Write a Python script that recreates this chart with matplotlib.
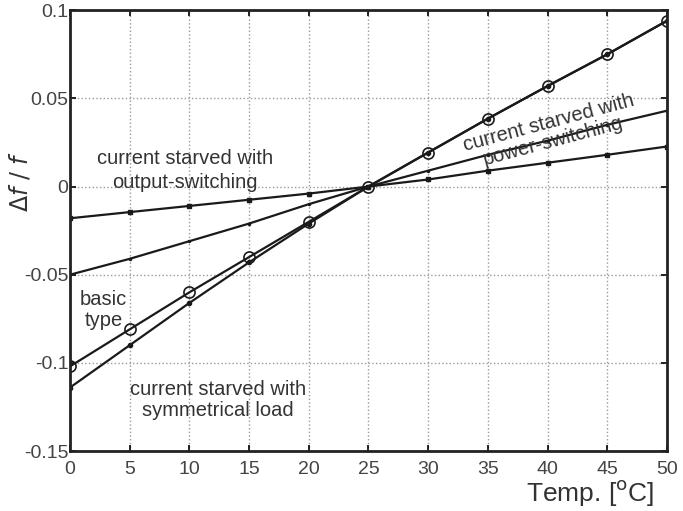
import matplotlib.pyplot as plt
import numpy as np

temp = [0, 5, 10, 15, 20, 25, 30, 35, 40, 45, 50]
basic_type = [-0.102, -0.081, -0.060, -0.040, -0.020, 0.0, 0.0193, 0.0385, 0.057, 0.075, 0.094]
symmetrical_load = [-0.114, -0.090, -0.066, -0.043, -0.021, 0.0, 0.0193, 0.0385, 0.057, 0.075, 0.094]
power_switching = [-0.050, -0.041, -0.031, -0.021, -0.010, 0.0, 0.009, 0.018, 0.026, 0.035, 0.043]
output_switching = [-0.018, -0.0145, -0.011, -0.0075, -0.004, 0.0, 0.004, 0.009, 0.0135, 0.018, 0.0227]

x_ticks = [0, 5, 10, 15, 20, 25, 30, 35, 40, 45, 50]
y_ticks = [-0.15, -0.1, -0.05, 0, 0.05, 0.1]
y_tick_labels = ['-0.15', '-0.1', '-0.05', '0', '0.05', '0.1']

plt.rcParams['font.family'] = ['Liberation Sans', 'DejaVu Sans']

fig = plt.figure(figsize=(6.83, 5.11), dpi=100)
ax = fig.add_axes([0.1025, 0.1174, 0.874, 0.8626])

lc = '#1a1a1a'
ax.plot(temp, output_switching, color=lc, lw=1.6, marker='s', ms=3)
ax.plot(temp, power_switching, color=lc, lw=1.6, marker='.', ms=3)
ax.plot(temp, symmetrical_load, color=lc, lw=1.6, marker='o', ms=3)
ax.plot(temp, basic_type, color=lc, lw=1.6, marker='o', ms=8, mfc='none', mew=1.2)

ax.set_xlim(0, 50)
ax.set_ylim(-0.15, 0.1)
ax.set_xticks(x_ticks)
ax.set_yticks(y_ticks)
ax.set_yticklabels(y_tick_labels)
ax.grid(True, linestyle=':', color='#999999', lw=1.0)
ax.tick_params(direction='in', top=True, right=True, length=4, width=1.2,
               labelsize=14, labelcolor='#444444')
ax.tick_params(axis='x', pad=7)
ax.tick_params(axis='y', pad=1)
for s in ax.spines.values():
    s.set_linewidth(2)
    s.set_color('#222222')

txt = '#333333'
ax.text(9.6, 0.009, 'current starved with\noutput-switching', ha='center', va='center',
        fontsize=14.5, color=txt, linespacing=1.3)
ax.text(40.3, 0.031, 'current starved with\npower-switching', ha='center', va='center',
        fontsize=14.5, color=txt, rotation=15, linespacing=0.95, rotation_mode='anchor')
ax.text(2.8, -0.07, 'basic\ntype', ha='center', va='center', fontsize=14.5, color=txt,
        linespacing=1.1)
ax.text(12.4, -0.121, 'current starved with\nsymmetrical load', ha='center', va='center',
        fontsize=14.5, color=txt, linespacing=1.1)

fig.text(0.958, 0.005, 'Temp. [$^{\\rm o}$C]', ha='right', va='bottom', fontsize=19, color=txt)
fig.text(0.03, 0.645, '$\\Delta f\\ /\\ f$', ha='center', va='center', rotation=90,
         fontsize=17, color=txt)

plt.savefig('out.png', dpi=100)
